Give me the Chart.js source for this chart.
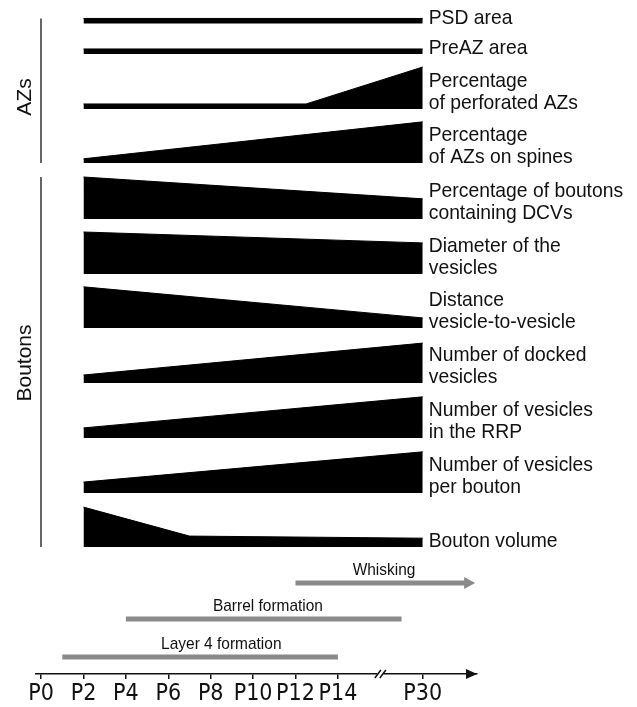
<!DOCTYPE html>
<html>
<head>
<meta charset="utf-8">
<script src="https://cdn.jsdelivr.net/npm/chart.js@4.4.0/dist/chart.umd.min.js"></script>
<style>
  html, body { margin: 0; padding: 0; background: #fff; }
  #wrap { width: 637px; height: 707px; }
</style>
</head>
<body>
<div id="wrap"><canvas id="timeline" width="637" height="707"></canvas></div>
<script>
// Axe des âges (jours postnataux)
const tickDays = [0, 2, 4, 6, 8, 10, 12, 14, 30];
const tickLabels = ['P0', 'P2', 'P4', 'P6', 'P8', 'P10', 'P12', 'P14', 'P30'];

// Jours de mesure
const defaultDays = [2, 30];
const perforatedDays = [2, 12.5, 30];
const volumeDays = [2, 7, 30];

// Valeurs relatives (100 = bande pleine)
const psdArea = [12, 12];
const preAzArea = [12, 12];
const perforatedAzs = [12, 12, 100];
const azsOnSpines = [10, 98];
const boutonsWithDcvs = [100, 48];
const vesicleDiameter = [100, 74];
const vesicleDistance = [98, 24];
const dockedVesicles = [19, 95];
const rrpVesicles = [24, 98];
const vesiclesPerBouton = [26, 98];
const boutonVolume = [95, 26, 21];

const rowLabels = [
    ['PSD area'],
    ['PreAZ area'],
    ['Percentage', 'of perforated AZs'],
    ['Percentage', 'of AZs on spines'],
    ['Percentage of boutons', 'containing DCVs'],
    ['Diameter of the', 'vesicles'],
    ['Distance', 'vesicle-to-vesicle'],
    ['Number of docked', 'vesicles'],
    ['Number of vesicles', 'in the RRP'],
    ['Number of vesicles', 'per bouton'],
    ['Bouton volume']
];

// Périodes du développement
const periodLabels = ['Whisking', 'Barrel formation', 'Layer 4 formation'];
const periodStart = [12, 4, 1];
const periodEnd = [38, 26, 14];

// Mise en page
const rowBottoms = [23.5, 54, 109, 163, 219, 274, 328, 383, 438, 493, 547];
const bandHeight = 42;
const periodY = [583, 619, 657];
const periodLabelAt = [22.7, 10.7, 8.5];
const groups = [
    { label: 'AZs', first: 0, last: 3, textY: 97 },
    { label: 'Boutons', first: 4, last: 10, textY: 363 }
];

const rows = [
    [defaultDays, psdArea],
    [defaultDays, preAzArea],
    [perforatedDays, perforatedAzs],
    [defaultDays, azsOnSpines],
    [defaultDays, boutonsWithDcvs],
    [defaultDays, vesicleDiameter],
    [defaultDays, vesicleDistance],
    [defaultDays, dockedVesicles],
    [defaultDays, rrpVesicles],
    [defaultDays, vesiclesPerBouton],
    [volumeDays, boutonVolume]
];

// Axe coupé entre P14 et P30
function dayToPos(d) {
    return d <= 14 ? d / 2 : 7 + (d - 14) / 8;
}

const textFont = '"Liberation Sans", Arial, sans-serif';
const narrowFont = '"DejaVu Sans Condensed", "Liberation Sans", sans-serif';
const grey = '#8a8a8a';

// Texte légèrement condensé, comme l'original
function condensedText(ctx, text, x, y, squeeze) {
    ctx.save();
    ctx.translate(x, y);
    ctx.scale(squeeze, 1);
    ctx.fillText(text, 0, 0);
    ctx.restore();
}

const datasets = [];
rows.forEach(function(row, k) {
    const bottom = rowBottoms[k];
    datasets.push({
        data: row[0].map(function(d, i) {
            return { x: dayToPos(d), y: bottom - row[1][i] / 100 * bandHeight };
        }),
        fill: { value: bottom },
        backgroundColor: '#000',
        borderColor: '#000',
        borderWidth: 1,
        pointRadius: 0,
        tension: 0
    });
});
periodLabels.forEach(function(label, i) {
    datasets.push({
        data: [
            { x: dayToPos(periodStart[i]), y: periodY[i] },
            { x: dayToPos(periodEnd[i]), y: periodY[i] }
        ],
        fill: false,
        borderColor: grey,
        borderWidth: 5,
        borderCapStyle: 'butt',
        pointRadius: 0
    });
});

const decorPlugin = {
    id: 'decor',
    afterDraw: function(chart) {
        const ctx = chart.ctx;
        const xs = chart.scales.x;
        const area = chart.chartArea;
        const axisY = area.bottom;
        ctx.save();

        // Flèche de l'axe
        ctx.fillStyle = '#111';
        ctx.beginPath();
        ctx.moveTo(area.right, axisY);
        ctx.lineTo(area.right - 11, axisY - 5);
        ctx.lineTo(area.right - 11, axisY + 5);
        ctx.closePath();
        ctx.fill();

        // Coupure de l'axe
        const bx = xs.getPixelForValue(8);
        ctx.fillStyle = '#fff';
        ctx.fillRect(bx - 3, axisY - 2, 6, 4);
        ctx.strokeStyle = '#111';
        ctx.lineWidth = 1.5;
        [-2.5, 2.5].forEach(function(o) {
            ctx.beginPath();
            ctx.moveTo(bx + o - 3, axisY + 4);
            ctx.lineTo(bx + o + 3, axisY - 4);
            ctx.stroke();
        });

        // Flèche "Whisking"
        const wx = xs.getPixelForValue(dayToPos(periodEnd[0]));
        ctx.fillStyle = grey;
        ctx.beginPath();
        ctx.moveTo(wx - 1, periodY[0] - 6);
        ctx.lineTo(wx + 10, periodY[0]);
        ctx.lineTo(wx - 1, periodY[0] + 6);
        ctx.closePath();
        ctx.fill();

        // Libellés des périodes
        ctx.fillStyle = '#111';
        ctx.font = '17px ' + textFont;
        ctx.textAlign = 'center';
        ctx.textBaseline = 'alphabetic';
        periodLabels.forEach(function(label, i) {
            condensedText(ctx, label, xs.getPixelForValue(dayToPos(periodLabelAt[i])), periodY[i] - 8, 0.91);
        });

        // Libellés des lignes
        const lx = xs.getPixelForValue(dayToPos(30)) + 6;
        ctx.font = '21px ' + textFont;
        ctx.textAlign = 'left';
        rowLabels.forEach(function(lines, k) {
            lines.forEach(function(line, j) {
                condensedText(ctx, line, lx, rowBottoms[k] - (lines.length - 1 - j) * 22.5, 0.92);
            });
        });

        // Groupes
        ctx.strokeStyle = '#333';
        ctx.lineWidth = 1.5;
        ctx.font = '21px ' + textFont;
        ctx.textAlign = 'center';
        ctx.textBaseline = 'middle';
        groups.forEach(function(g) {
            const top = rowBottoms[g.first] - (g.first === 0 ? 5 : bandHeight);
            ctx.beginPath();
            ctx.moveTo(41, top);
            ctx.lineTo(41, rowBottoms[g.last]);
            ctx.stroke();
            ctx.save();
            ctx.translate(25, g.textY);
            ctx.rotate(-Math.PI / 2);
            ctx.fillText(g.label, 0, 0);
            ctx.restore();
        });
        ctx.restore();
    }
};

const chart = new Chart(document.getElementById('timeline'), {
    type: 'line',
    data: { datasets: datasets },
    options: {
        responsive: false,
        animation: false,
        events: [],
        layout: { padding: { left: 36, right: 160, top: 0, bottom: 0 } },
        plugins: {
            legend: { display: false },
            tooltip: { enabled: false }
        },
        scales: {
            x: {
                type: 'linear',
                min: -0.12,
                max: 10.28,
                afterBuildTicks: function(scale) {
                    scale.ticks = tickDays.map(function(d) { return { value: dayToPos(d) }; });
                },
                afterFit: function(scale) {
                    scale.height = 33;
                },
                grid: { drawOnChartArea: false, drawTicks: true, tickLength: 5, color: '#111', lineWidth: 1.5 },
                border: { display: true, color: '#111', width: 1.5 },
                ticks: {
                    autoSkip: false,
                    maxRotation: 0,
                    padding: 1,
                    color: '#111',
                    font: { family: narrowFont, size: 23 },
                    callback: function(value, index) {
                        return tickLabels[index];
                    }
                }
            },
            y: {
                type: 'linear',
                min: 0,
                max: 674,
                reverse: true,
                display: false
            }
        }
    },
    plugins: [decorPlugin]
});
</script>
</body>
</html>
